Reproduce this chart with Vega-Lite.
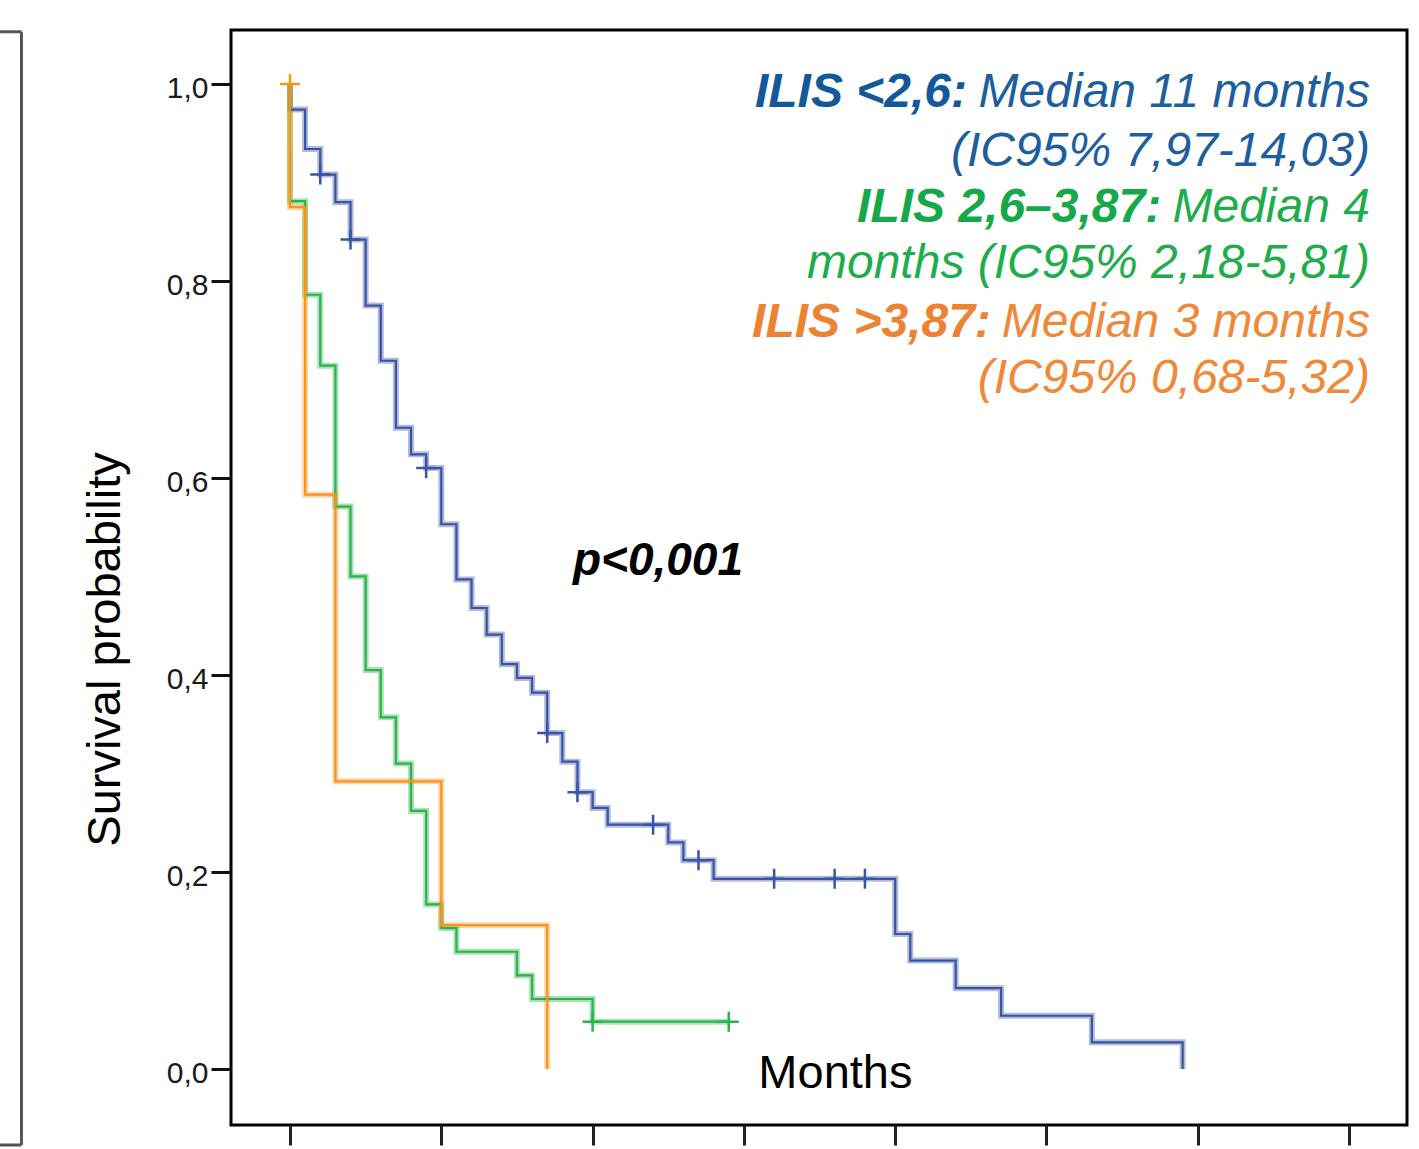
{
  "$schema": "https://vega.github.io/schema/vega-lite/v6.json",
  "width": 1176,
  "height": 1095,
  "autosize": {"type": "none"},
  "padding": {"left": 231, "top": 30, "right": 12, "bottom": 24},
  "background": "white",
  "config": {
    "view": {"stroke": "#000", "strokeWidth": 3},
    "font": "Liberation Sans",
    "axis": {"grid": false, "domain": false}
  },
  "datasets": {
    "curves": [
      {"g": "ILIS <2,6", "i": 0, "t": 0, "s": 1.0},
      {"g": "ILIS <2,6", "i": 1, "t": 0, "s": 0.974},
      {"g": "ILIS <2,6", "i": 2, "t": 1, "s": 0.934},
      {"g": "ILIS <2,6", "i": 3, "t": 2, "s": 0.908},
      {"g": "ILIS <2,6", "i": 4, "t": 3, "s": 0.880},
      {"g": "ILIS <2,6", "i": 5, "t": 4, "s": 0.842},
      {"g": "ILIS <2,6", "i": 6, "t": 5, "s": 0.775},
      {"g": "ILIS <2,6", "i": 7, "t": 6, "s": 0.719},
      {"g": "ILIS <2,6", "i": 8, "t": 7, "s": 0.651},
      {"g": "ILIS <2,6", "i": 9, "t": 8, "s": 0.624},
      {"g": "ILIS <2,6", "i": 10, "t": 9, "s": 0.610},
      {"g": "ILIS <2,6", "i": 11, "t": 10, "s": 0.553},
      {"g": "ILIS <2,6", "i": 12, "t": 11, "s": 0.497},
      {"g": "ILIS <2,6", "i": 13, "t": 12, "s": 0.468},
      {"g": "ILIS <2,6", "i": 14, "t": 13, "s": 0.441},
      {"g": "ILIS <2,6", "i": 15, "t": 14, "s": 0.411},
      {"g": "ILIS <2,6", "i": 16, "t": 15, "s": 0.397},
      {"g": "ILIS <2,6", "i": 17, "t": 16, "s": 0.382},
      {"g": "ILIS <2,6", "i": 18, "t": 17, "s": 0.341},
      {"g": "ILIS <2,6", "i": 19, "t": 18, "s": 0.312},
      {"g": "ILIS <2,6", "i": 20, "t": 19, "s": 0.281},
      {"g": "ILIS <2,6", "i": 21, "t": 20, "s": 0.265},
      {"g": "ILIS <2,6", "i": 22, "t": 21, "s": 0.248},
      {"g": "ILIS <2,6", "i": 23, "t": 25, "s": 0.230},
      {"g": "ILIS <2,6", "i": 24, "t": 26, "s": 0.212},
      {"g": "ILIS <2,6", "i": 25, "t": 28, "s": 0.193},
      {"g": "ILIS <2,6", "i": 26, "t": 40, "s": 0.137},
      {"g": "ILIS <2,6", "i": 27, "t": 41, "s": 0.110},
      {"g": "ILIS <2,6", "i": 28, "t": 44, "s": 0.082},
      {"g": "ILIS <2,6", "i": 29, "t": 47, "s": 0.054},
      {"g": "ILIS <2,6", "i": 30, "t": 53, "s": 0.027},
      {"g": "ILIS <2,6", "i": 31, "t": 59, "s": 0.0},
      {"g": "ILIS 2,6–3,87", "i": 0, "t": 0, "s": 1.0},
      {"g": "ILIS 2,6–3,87", "i": 1, "t": 0, "s": 0.881},
      {"g": "ILIS 2,6–3,87", "i": 2, "t": 1, "s": 0.786},
      {"g": "ILIS 2,6–3,87", "i": 3, "t": 2, "s": 0.714},
      {"g": "ILIS 2,6–3,87", "i": 4, "t": 3, "s": 0.571},
      {"g": "ILIS 2,6–3,87", "i": 5, "t": 4, "s": 0.500},
      {"g": "ILIS 2,6–3,87", "i": 6, "t": 5, "s": 0.405},
      {"g": "ILIS 2,6–3,87", "i": 7, "t": 6, "s": 0.357},
      {"g": "ILIS 2,6–3,87", "i": 8, "t": 7, "s": 0.310},
      {"g": "ILIS 2,6–3,87", "i": 9, "t": 8, "s": 0.262},
      {"g": "ILIS 2,6–3,87", "i": 10, "t": 9, "s": 0.167},
      {"g": "ILIS 2,6–3,87", "i": 11, "t": 10, "s": 0.143},
      {"g": "ILIS 2,6–3,87", "i": 12, "t": 11, "s": 0.119},
      {"g": "ILIS 2,6–3,87", "i": 13, "t": 15, "s": 0.095},
      {"g": "ILIS 2,6–3,87", "i": 14, "t": 16, "s": 0.071},
      {"g": "ILIS 2,6–3,87", "i": 15, "t": 20, "s": 0.048},
      {"g": "ILIS 2,6–3,87", "i": 16, "t": 29, "s": 0.048},
      {"g": "ILIS >3,87", "i": 0, "t": 0, "s": 1.0},
      {"g": "ILIS >3,87", "i": 1, "t": 0, "s": 0.875},
      {"g": "ILIS >3,87", "i": 2, "t": 1, "s": 0.583},
      {"g": "ILIS >3,87", "i": 3, "t": 3, "s": 0.292},
      {"g": "ILIS >3,87", "i": 4, "t": 10, "s": 0.146},
      {"g": "ILIS >3,87", "i": 5, "t": 17, "s": 0.0}
    ],
    "censored": [
      {"g": "ILIS <2,6", "t": 2, "s": 0.908},
      {"g": "ILIS <2,6", "t": 4, "s": 0.842},
      {"g": "ILIS <2,6", "t": 9, "s": 0.610},
      {"g": "ILIS <2,6", "t": 17, "s": 0.341},
      {"g": "ILIS <2,6", "t": 19, "s": 0.281},
      {"g": "ILIS <2,6", "t": 24, "s": 0.248},
      {"g": "ILIS <2,6", "t": 27, "s": 0.212},
      {"g": "ILIS <2,6", "t": 32, "s": 0.193},
      {"g": "ILIS <2,6", "t": 36, "s": 0.193},
      {"g": "ILIS <2,6", "t": 38, "s": 0.193},
      {"g": "ILIS 2,6–3,87", "t": 20, "s": 0.048},
      {"g": "ILIS 2,6–3,87", "t": 29, "s": 0.048},
      {"g": "ILIS >3,87", "t": 0, "s": 1.0}
    ]
  },
  "layer": [
    {
      "data": {"values": [{}]},
      "mark": {"type": "rule", "clip": false, "color": "#555", "strokeWidth": 3},
      "encoding": {
        "x": {"datum": -17.75, "type": "quantitative"},
        "y": {"datum": -0.0772, "type": "quantitative"},
        "y2": {"datum": 1.0531}
      }
    },
    {
      "data": {"values": [{}]},
      "mark": {"type": "rule", "clip": false, "color": "#555", "strokeWidth": 3},
      "encoding": {
        "x": {"datum": -25, "type": "quantitative"},
        "x2": {"datum": -17.75},
        "y": {"datum": 1.0531, "type": "quantitative"}
      }
    },
    {
      "data": {"values": [{}]},
      "mark": {"type": "rule", "clip": false, "color": "#555", "strokeWidth": 3},
      "encoding": {
        "x": {"datum": -25, "type": "quantitative"},
        "x2": {"datum": -17.75},
        "y": {"datum": -0.0772, "type": "quantitative"}
      }
    },
    {
      "data": {"name": "curves"},
      "mark": {"type": "line", "interpolate": "step-after", "strokeWidth": 6, "opacity": 0.4},
      "encoding": {
        "x": {
          "field": "t", "type": "quantitative",
          "scale": {"domain": [-3.9, 73.83], "nice": false, "zero": false},
          "axis": {
            "values": [0, 10, 20, 30, 40, 50, 60, 70],
            "labels": false, "title": null,
            "ticks": true, "tickSize": 20, "tickWidth": 3, "tickColor": "#222"
          }
        },
        "y": {
          "field": "s", "type": "quantitative",
          "scale": {"domain": [-0.0569, 1.0548], "nice": false, "zero": false},
          "axis": {
            "values": [0, 0.2, 0.4, 0.6, 0.8, 1.0],
            "labelExpr": "replace(format(datum.value, '.1f'), '.', ',')",
            "labelFont": "Liberation Sans", "labelFontSize": 30, "labelColor": "#1a1a1a",
            "labelPadding": 3, "labelOffset": 5,
            "tickSize": 20, "tickWidth": 3, "tickColor": "#111",
            "title": "Survival probability",
            "titleFont": "Liberation Sans", "titleFontSize": 47, "titleFontWeight": "normal",
            "titleColor": "#000", "titleX": -126, "titleY": 619, "titleAngle": -90,
            "titleAlign": "center", "titleBaseline": "middle"
          }
        },
        "color": {
          "field": "g", "type": "nominal",
          "scale": {"domain": ["ILIS <2,6", "ILIS 2,6–3,87", "ILIS >3,87"], "range": ["#3A54A4", "#2DB34B", "#F7941D"]},
          "legend": null
        },
        "order": {"field": "i", "type": "quantitative"}
      }
    },
    {
      "data": {"name": "curves"},
      "mark": {"type": "line", "interpolate": "step-after", "strokeWidth": 2.2},
      "encoding": {
        "x": {"field": "t", "type": "quantitative"},
        "y": {"field": "s", "type": "quantitative"},
        "color": {"field": "g", "type": "nominal", "legend": null},
        "order": {"field": "i", "type": "quantitative"}
      }
    },
    {
      "data": {"name": "censored"},
      "mark": {"type": "point", "shape": "M-1,0L1,0M0,-1L0,1", "filled": false, "size": 400, "strokeWidth": 2.5, "opacity": 1},
      "encoding": {
        "x": {"field": "t", "type": "quantitative"},
        "y": {"field": "s", "type": "quantitative"},
        "color": {"field": "g", "type": "nominal", "legend": null}
      }
    },
    {
      "data": {"values": [{}]},
      "mark": {"type": "text", "fontSize": 48, "fontStyle": "italic", "fontWeight": "bold", "align": "left", "baseline": "alphabetic", "color": "#12589A"},
      "encoding": {"x": {"datum": 30.73, "type": "quantitative"}, "y": {"datum": 0.9767, "type": "quantitative"}, "text": {"value": "ILIS <2,6:"}}
    },
    {
      "data": {"values": [{}]},
      "mark": {"type": "text", "fontSize": 48, "fontStyle": "italic", "align": "right", "baseline": "alphabetic", "color": "#1D5E9E"},
      "encoding": {"x": {"datum": 71.38, "type": "quantitative"}, "y": {"datum": 0.9767, "type": "quantitative"}, "text": {"value": "Median 11 months"}}
    },
    {
      "data": {"values": [{}]},
      "mark": {"type": "text", "fontSize": 48, "fontStyle": "italic", "align": "right", "baseline": "alphabetic", "color": "#1D5E9E"},
      "encoding": {"x": {"datum": 71.38, "type": "quantitative"}, "y": {"datum": 0.9168, "type": "quantitative"}, "text": {"value": "(IC95% 7,97-14,03)"}}
    },
    {
      "data": {"values": [{}]},
      "mark": {"type": "text", "fontSize": 48, "fontStyle": "italic", "fontWeight": "bold", "align": "left", "baseline": "alphabetic", "color": "#16A84A"},
      "encoding": {"x": {"datum": 37.48, "type": "quantitative"}, "y": {"datum": 0.8599, "type": "quantitative"}, "text": {"value": "ILIS 2,6–3,87:"}}
    },
    {
      "data": {"values": [{}]},
      "mark": {"type": "text", "fontSize": 48, "fontStyle": "italic", "align": "right", "baseline": "alphabetic", "color": "#1EAC4D"},
      "encoding": {"x": {"datum": 71.38, "type": "quantitative"}, "y": {"datum": 0.8599, "type": "quantitative"}, "text": {"value": "Median 4"}}
    },
    {
      "data": {"values": [{}]},
      "mark": {"type": "text", "fontSize": 48, "fontStyle": "italic", "align": "right", "baseline": "alphabetic", "color": "#1EAC4D"},
      "encoding": {"x": {"datum": 71.38, "type": "quantitative"}, "y": {"datum": 0.8030, "type": "quantitative"}, "text": {"value": "months (IC95% 2,18-5,81)"}}
    },
    {
      "data": {"values": [{}]},
      "mark": {"type": "text", "fontSize": 48, "fontStyle": "italic", "fontWeight": "bold", "align": "left", "baseline": "alphabetic", "color": "#EE8233"},
      "encoding": {"x": {"datum": 30.54, "type": "quantitative"}, "y": {"datum": 0.7431, "type": "quantitative"}, "text": {"value": "ILIS >3,87:"}}
    },
    {
      "data": {"values": [{}]},
      "mark": {"type": "text", "fontSize": 48, "fontStyle": "italic", "align": "right", "baseline": "alphabetic", "color": "#F0883A"},
      "encoding": {"x": {"datum": 71.38, "type": "quantitative"}, "y": {"datum": 0.7431, "type": "quantitative"}, "text": {"value": "Median 3 months"}}
    },
    {
      "data": {"values": [{}]},
      "mark": {"type": "text", "fontSize": 48, "fontStyle": "italic", "align": "right", "baseline": "alphabetic", "color": "#F0883A"},
      "encoding": {"x": {"datum": 71.38, "type": "quantitative"}, "y": {"datum": 0.6863, "type": "quantitative"}, "text": {"value": "(IC95% 0,68-5,32)"}}
    },
    {
      "data": {"values": [{}]},
      "mark": {"type": "text", "fontSize": 46, "fontStyle": "italic", "fontWeight": "bold", "align": "center", "baseline": "alphabetic", "color": "#000"},
      "encoding": {"x": {"datum": 24.32, "type": "quantitative"}, "y": {"datum": 0.5015, "type": "quantitative"}, "text": {"value": "p<0,001"}}
    },
    {
      "data": {"values": [{}]},
      "mark": {"type": "text", "fontSize": 47, "align": "center", "baseline": "alphabetic", "color": "#000"},
      "encoding": {"x": {"datum": 36.05, "type": "quantitative"}, "y": {"datum": -0.0193, "type": "quantitative"}, "text": {"value": "Months"}}
    }
  ]
}
